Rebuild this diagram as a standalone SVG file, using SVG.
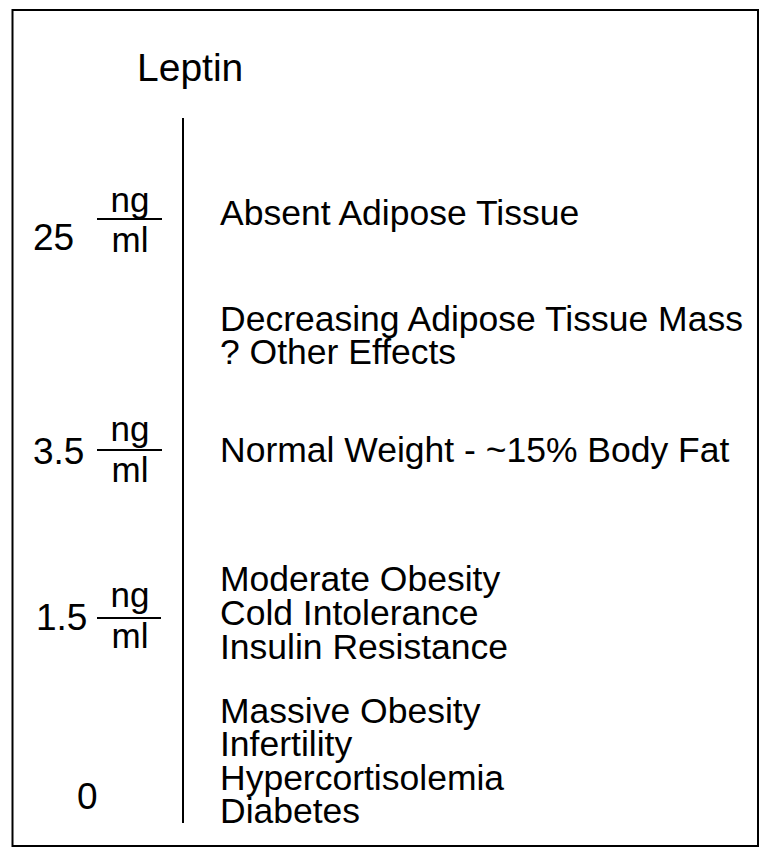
<svg xmlns="http://www.w3.org/2000/svg" width="772" height="867" viewBox="0 0 772 867">
<style>
text{font-family:"Liberation Sans",Arial,Helvetica,sans-serif;fill:#000}
.t{font-size:35.5px}
.u{font-size:35px;text-anchor:middle}
.n{font-size:37px}
.ln{stroke:#000;stroke-width:2;fill:none}
</style>
<rect width="772" height="867" fill="#fff"/>
<rect id="frame" x="12.5" y="10" width="745.5" height="836" class="ln"/>
<g id="title"><text x="137" y="81" style="font-size:39px">Leptin</text></g>
<g id="connectors"><line x1="183" y1="118" x2="183" y2="823" class="ln"/></g>
<g id="level-25">
<text class="n" x="33" y="250">25</text>
<text class="u" x="130" y="212">ng</text>
<line x1="97" y1="219" x2="162" y2="219" class="ln"/>
<text class="u" x="130" y="252">ml</text>
<text class="t" x="220" y="225">Absent Adipose Tissue</text>
</g>
<g id="level-decreasing">
<text class="t"><tspan x="220" y="331">Decreasing Adipose Tissue Mass</tspan><tspan x="220" y="364">? Other Effects</tspan></text>
</g>
<g id="level-3-5">
<text class="n" x="33" y="464">3.5</text>
<text class="u" x="130" y="441">ng</text>
<line x1="97" y1="450" x2="162" y2="450" class="ln"/>
<text class="u" x="130" y="482">ml</text>
<text class="t" x="220" y="462">Normal Weight - ~15% Body Fat</text>
</g>
<g id="level-1-5">
<text class="n" x="36" y="630">1.5</text>
<text class="u" x="130" y="607">ng</text>
<line x1="97" y1="618" x2="161" y2="618" class="ln"/>
<text class="u" x="130" y="648">ml</text>
<text class="t"><tspan x="220" y="591">Moderate Obesity</tspan><tspan x="220" y="625">Cold Intolerance</tspan><tspan x="220" y="659">Insulin Resistance</tspan></text>
</g>
<g id="level-0">
<text class="n" x="77" y="809">0</text>
<text class="t"><tspan x="220" y="723">Massive Obesity</tspan><tspan x="220" y="756">Infertility</tspan><tspan x="220" y="790">Hypercortisolemia</tspan><tspan x="220" y="823">Diabetes</tspan></text>
</g>
</svg>
